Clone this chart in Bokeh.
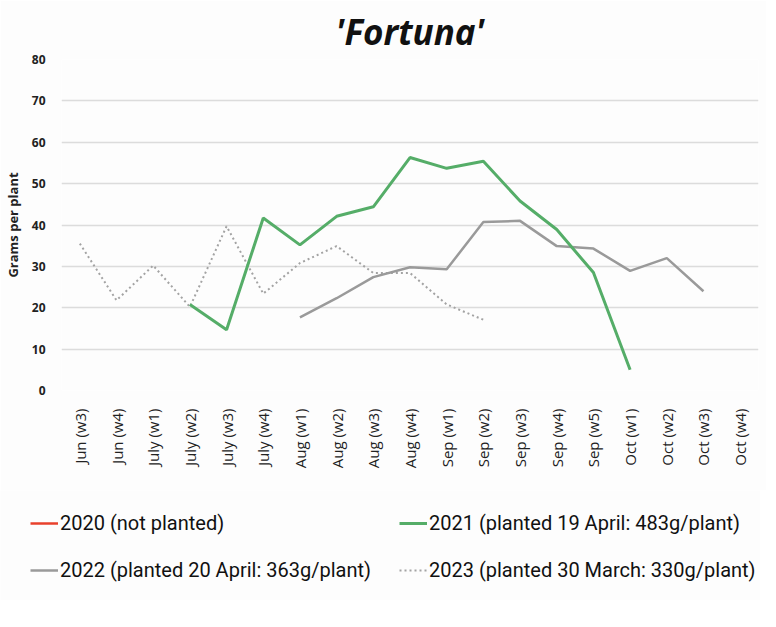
import math
from bokeh.plotting import figure
from bokeh.models import FactorRange, Range1d, Legend, LegendItem, FixedTicker
from bokeh.embed import file_html
from bokeh.resources import INLINE

# ---- data ----
categories = ["Jun (w3)", "Jun (w4)", "July (w1)", "July (w2)", "July (w3)", "July (w4)",
              "Aug (w1)", "Aug (w2)", "Aug (w3)", "Aug (w4)", "Sep (w1)", "Sep (w2)",
              "Sep (w3)", "Sep (w4)", "Sep (w5)", "Oct (w1)", "Oct (w2)", "Oct (w3)", "Oct (w4)"]

weeks_2020 = []
grams_2020 = []

weeks_2021 = ["July (w2)", "July (w3)", "July (w4)", "Aug (w1)", "Aug (w2)", "Aug (w3)",
              "Aug (w4)", "Sep (w1)", "Sep (w2)", "Sep (w3)", "Sep (w4)", "Sep (w5)", "Oct (w1)"]
grams_2021 = [20.8, 14.7, 41.7, 35.2, 42.1, 44.4, 56.3, 53.7, 55.4, 45.8, 38.9, 28.5, 5.0]

weeks_2022 = ["Aug (w1)", "Aug (w2)", "Aug (w3)", "Aug (w4)", "Sep (w1)", "Sep (w2)",
              "Sep (w3)", "Sep (w4)", "Sep (w5)", "Oct (w1)", "Oct (w2)", "Oct (w3)"]
grams_2022 = [17.7, 22.3, 27.4, 29.8, 29.3, 40.7, 41.0, 34.9, 34.3, 28.9, 32.0, 24.0]

weeks_2023 = ["Jun (w3)", "Jun (w4)", "July (w1)", "July (w2)", "July (w3)", "July (w4)",
              "Aug (w1)", "Aug (w2)", "Aug (w3)", "Aug (w4)", "Sep (w1)", "Sep (w2)"]
grams_2023 = [35.5, 21.8, 30.2, 20.2, 39.7, 23.4, 30.8, 34.9, 28.4, 28.4, 20.8, 17.1]

y_ticks = [0, 10, 20, 30, 40, 50, 60, 70, 80]

series_keys = ["2020", "2021", "2022", "2023"]
labels = ["2020 (not planted)", "2021 (planted 19 April: 483g/plant)",
          "2022 (planted 20 April: 363g/plant)", "2023 (planted 30 March: 330g/plant)"]

styles = {
    "2020": dict(line_color="#e8412c", line_width=2.5),
    "2021": dict(line_color="#55ad68", line_width=3),
    "2022": dict(line_color="#9a9a9a", line_width=2.5),
    "2023": dict(line_color="#a3a3a3", line_width=2, line_dash="2 3"),
}

BG = "#fdfdfd"

# ---- chart ----
p = figure(x_range=FactorRange(factors=categories, range_padding=0),
           y_range=Range1d(0, 80),
           frame_width=697, frame_height=331,
           min_border_left=50, min_border_right=8, min_border_top=55, min_border_bottom=100,
           output_backend="svg", toolbar_location=None)

p.outline_line_color = None
p.background_fill_color = BG
p.border_fill_color = BG

p.title.text = "'Fortuna'"
p.title.align = "center"
p.title.text_font = "Open Sans"
p.title.text_font_size = "35px"
p.title.text_font_style = "bold italic"
p.title.text_color = "#111111"

p.xgrid.grid_line_color = None
p.ygrid.grid_line_color = "#dcdcdc"
p.ygrid.grid_line_width = 1.5

p.yaxis.ticker = FixedTicker(ticks=y_ticks)
p.yaxis.axis_line_color = None
p.yaxis.major_tick_line_color = None
p.yaxis.minor_tick_line_color = None
p.yaxis.major_label_text_font = "Open Sans"
p.yaxis.major_label_text_font_size = "12px"
p.yaxis.major_label_text_font_style = "bold"
p.yaxis.major_label_text_color = "#222222"
p.yaxis.major_label_standoff = 10
p.yaxis.axis_label = "Grams per plant"
p.yaxis.axis_label_text_font = "Open Sans"
p.yaxis.axis_label_text_font_size = "13px"
p.yaxis.axis_label_text_font_style = "bold"
p.yaxis.axis_label_text_color = "#222222"
p.yaxis.axis_label_standoff = 7

p.xaxis.axis_line_color = None
p.xaxis.major_tick_line_color = None
p.xaxis.minor_tick_line_color = None
p.xaxis.major_label_orientation = math.pi / 2
p.xaxis.major_label_text_font = "Open Sans"
p.xaxis.major_label_text_font_size = "15px"
p.xaxis.major_label_text_color = "#222222"
p.xaxis.major_label_standoff = 12

p.line(weeks_2020, grams_2020, **styles["2020"])
p.line(weeks_2023, grams_2023, **styles["2023"])
p.line(weeks_2022, grams_2022, **styles["2022"])
p.line(weeks_2021, grams_2021, **styles["2021"])

# ---- legend strip (separate root, so its frame is not aligned with the chart's) ----
lg = figure(width=760, height=110, x_range=Range1d(0, 1), y_range=Range1d(0, 1),
            x_axis_location=None, y_axis_location=None, min_border=0,
            output_backend="svg", toolbar_location=None)
lg.outline_line_color = None
lg.background_fill_color = BG
lg.border_fill_color = BG
lg.xgrid.visible = False
lg.ygrid.visible = False

item_map = {}
for key, lab in zip(series_keys, labels):
    r = lg.line([float("nan")], [float("nan")], **styles[key])
    item_map[key] = LegendItem(label=lab, renderers=[r])

# column-major order: left column 2020/2022, right column 2021/2023
legend = Legend(items=[item_map["2020"], item_map["2022"], item_map["2021"], item_map["2023"]],
                ncols=2, location=(30, 15),
                label_text_font="Roboto", label_text_font_size="20px",
                label_text_color="#111111",
                glyph_width=28, glyph_height=30, label_height=30, label_width=322,
                label_standoff=2, spacing=17, padding=0, margin=0,
                border_line_color=None, background_fill_alpha=0)
lg.add_layout(legend, "center")

open("out.html", "w").write(file_html([p, lg], INLINE))
